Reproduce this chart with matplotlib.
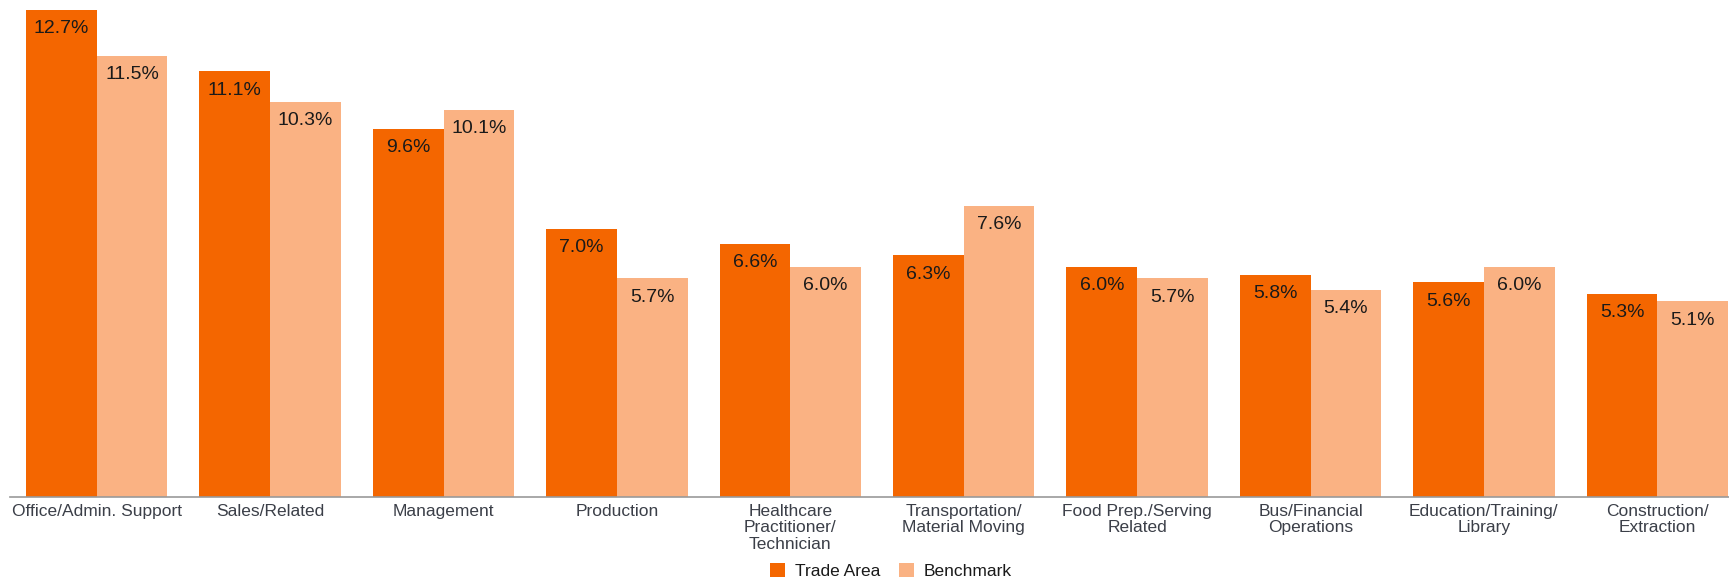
import matplotlib
matplotlib.use("Agg")
import matplotlib.pyplot as plt
import numpy as np

categories = ["Office/Admin. Support", "Sales/Related", "Management", "Production",
              "Healthcare\nPractitioner/\nTechnician", "Transportation/\nMaterial Moving",
              "Food Prep./Serving\nRelated", "Bus/Financial\nOperations",
              "Education/Training/\nLibrary", "Construction/\nExtraction"]
trade_area = [12.7, 11.1, 9.6, 7.0, 6.6, 6.3, 6.0, 5.8, 5.6, 5.3]
benchmark = [11.5, 10.3, 10.1, 5.7, 6.0, 7.6, 5.7, 5.4, 6.0, 5.1]

plt.rcParams['font.family'] = ['Liberation Sans', 'DejaVu Sans']
c_trade = "#F46600"
c_bench = "#FAB283"

W, H = 1729, 582
fig = plt.figure(figsize=(W / 100, H / 100), dpi=100)
ax = fig.add_axes([10 / W, (H - 497) / H, 1 - 10 / W, 497 / H])

x = np.arange(len(categories))
bw = 141 / 173 / 2
b1 = ax.bar(x - bw / 2, trade_area, bw, color=c_trade, label="Trade Area")
b2 = ax.bar(x + bw / 2, benchmark, bw, color=c_bench, label="Benchmark")

for bars, vals in [(b1, trade_area), (b2, benchmark)]:
    for r, v in zip(bars, vals):
        ax.annotate(f"{v:.1f}%", (r.get_x() + r.get_width() / 2, v),
                    xytext=(0, -19), textcoords="offset pixels",
                    ha="center", va="center", fontsize=14, color="#1a1a1a")

ax.set_xlim(-0.5, 9.5 - 15 / 173)
ax.set_ylim(0, 497 / 38.35)
ax.set_xticks(x)
ax.set_xticklabels(categories, fontsize=12.5, color="#3b3f48", linespacing=1.12)
ax.tick_params(axis="x", length=0, pad=5)
ax.set_yticks([])
for s in ["top", "right", "left"]:
    ax.spines[s].set_visible(False)
ax.spines["bottom"].set_color("#999999")
ax.spines["bottom"].set_linewidth(1.2)

fig.legend(loc="center", bbox_to_anchor=(891 / W, 11 / H), ncol=2, frameon=False,
           fontsize=12.5, handlelength=0.86, handleheight=0.86, handletextpad=0.57,
           columnspacing=1.1, labelcolor="#1a1a1a", borderpad=0)

fig.savefig("out.png", dpi=100)
